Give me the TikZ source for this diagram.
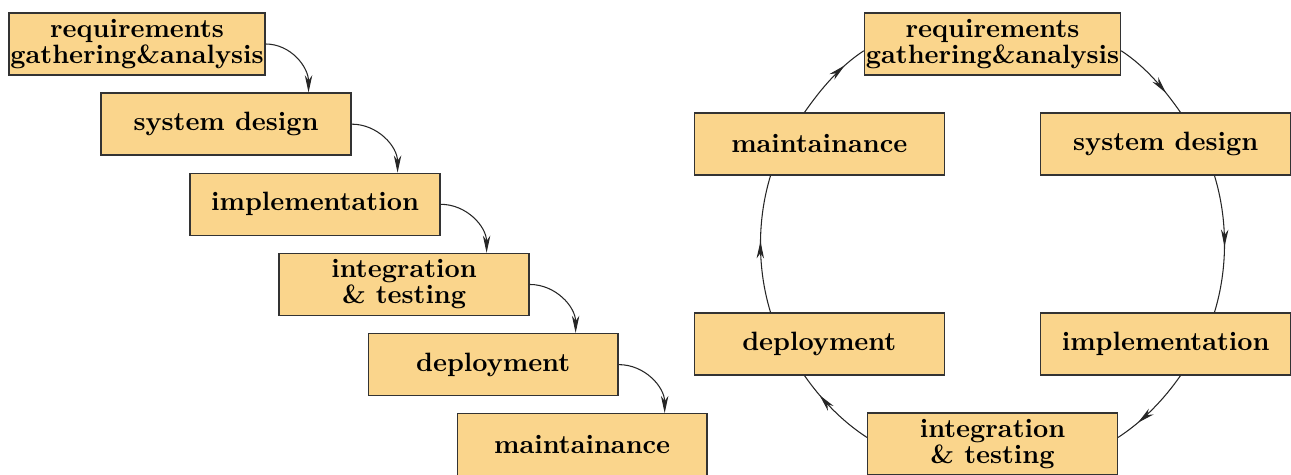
\documentclass[tikz,border=0pt]{standalone}
\usetikzlibrary{positioning,arrows.meta,decorations.markings}

\definecolor{phasefill}{RGB}{250,213,140}

\tikzset{
	phase/.style={draw=black!80, fill=phasefill, line width=0.5pt,
		minimum width=94.3pt, minimum height=23.4pt, inner sep=0.5pt,
		align=center, font=\fontsize{10}{9.8}\bfseries\selectfont},
	flow/.style={draw=black!85, line width=0.4pt, -{Stealth[length=6.5pt,width=2.8pt,inset=2pt]}},
	midflow/.style={draw=black!85, line width=0.4pt, looseness=0.86,
		postaction={decorate},
		decoration={markings, mark=at position #1 with {\arrow{Stealth[length=6.5pt,width=2.8pt,inset=2pt]}}}},
	midflow/.default=0.52,
}

\begin{document}
\begin{tikzpicture}[x=0.3774pt, y=0.3774pt, node distance=6.35pt]
	\useasboundingbox (0,0) rectangle (1291,-475);
	
	% waterfall
	\node[phase] (wr) at (137,-44) {requirements\\gathering\&analysis};
	\node[phase, below=of wr, xshift=33.6pt] (ws) {system design};
	\node[phase, below=of ws, xshift=33.6pt] (wi) {implementation};
	\node[phase, below=of wi, xshift=33.6pt] (wt) {integration\\\& testing};
	\node[phase, below=of wt, xshift=33.6pt] (wd) {deployment};
	\node[phase, below=of wd, xshift=33.6pt] (wm) {maintainance};
	
	\draw[flow] (wr.east) to[out=0, in=90] (ws.21);
	\draw[flow] (ws.east) to[out=0, in=90] (wi.21);
	\draw[flow] (wi.east) to[out=0, in=90] (wt.21);
	\draw[flow] (wt.east) to[out=0, in=90] (wd.21);
	\draw[flow] (wd.east) to[out=0, in=90] (wm.21);
	
	% cycle
	\begin{scope}[shift={(992.5,-244)}]
		\node[phase] (cr) at (90:200) {requirements\\gathering\&analysis};
		\node[phase] (cs) at (30:200) {system design};
		\node[phase] (ci) at (-30:200) {implementation};
		\node[phase] (ct) at (-90:200) {integration\\\& testing};
		\node[phase] (cd) at (-150:200) {deployment};
		\node[phase] (cm) at (150:200) {maintainance};
	\end{scope}
	
	\draw[midflow=0.72] (cr.-3) to[out=-33, in=125] (cs.65);
	\draw[midflow] (cs.-33) to[out=-73, in=73] (ci.33);
	\draw[midflow=0.72] (ci.-65) to[out=-125, in=33] (ct.3);
	\draw[midflow=0.72] (ct.177) to[out=147, in=-55] (cd.-115);
	\draw[midflow] (cd.147) to[out=107, in=-107] (cm.-147);
	\draw[midflow=0.72] (cm.115) to[out=55, in=-147] (cr.-177);
\end{tikzpicture}
\end{document}
